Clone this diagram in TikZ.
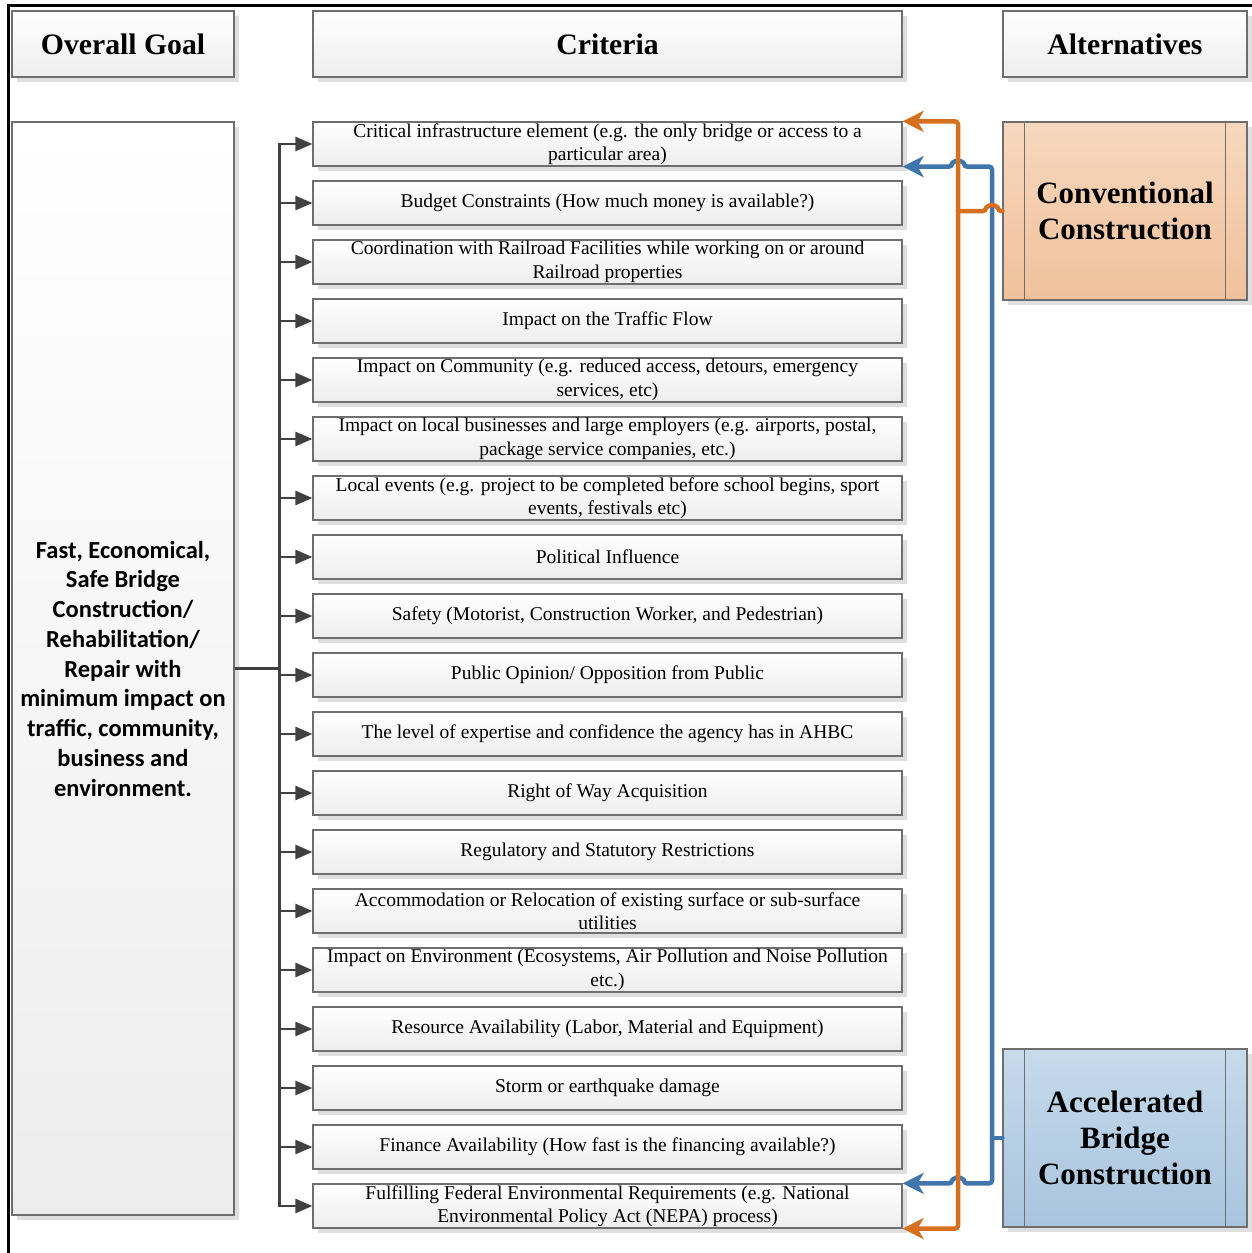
\documentclass[tikz,border=0pt]{standalone}
\usepackage{fontspec}
\setmainfont{Liberation Serif}
\newfontfamily\goalfont{Carlito}
\usepackage{xcolor}
\usepackage{tikz}
\usetikzlibrary{arrows.meta, shadows, positioning, calc}
\definecolor{boxline}{HTML}{6E6E6E}
\definecolor{arrowgray}{HTML}{404040}
\definecolor{convorange}{HTML}{D5711E}
\definecolor{abcblue}{HTML}{4176AC}
\definecolor{convtop}{HTML}{F7D8BE}
\definecolor{convbot}{HTML}{F0C19B}
\definecolor{abctop}{HTML}{C6DAEB}
\definecolor{abcbot}{HTML}{A8C4DE}
\tikzset{
    basenode/.style = {draw=boxline, line width=1.2pt, rectangle, inner sep=0pt, align=center,
      drop shadow={shadow xshift=5pt, shadow yshift=-5pt, fill=black!13, opacity=1}},
    headnode/.style = {basenode, top color=white, bottom color=black!7, minimum height=66pt,
      font=\fontsize{29.7}{34}\selectfont\bfseries},
    critnode/.style = {basenode, top color=white, bottom color=black!7, minimum width=589pt,
      minimum height=44pt, font=\fontsize{19.5}{23.5}\selectfont},
    goalnode/.style = {basenode, top color=white, bottom color=black!7, minimum width=222pt,
      minimum height=1093pt, font=\goalfont\fontsize{24.5}{29.75}\selectfont\bfseries},
    altnode/.style = {basenode, minimum width=244pt, minimum height=178pt,
      font=\fontsize{31}{36}\selectfont\bfseries},
    connect/.style = {arrowgray, line width=2.6pt, -{Triangle[length=17pt, width=14pt]}},
    orangelink/.style = {convorange, line width=4.5pt, line cap=round, rounded corners=3pt},
    bluelink/.style = {abcblue, line width=4.5pt, line cap=round, rounded corners=3pt},
    linktip/.style = {-{Stealth[length=21pt, width=21pt, inset=6pt]}}
}
\begin{document}
\begin{tikzpicture}[x=1pt, y=-1pt]
    \fill[white] (0,0) rectangle (1252,1253);
    \useasboundingbox (0,0) rectangle (1252,1253);
    \draw[line width=3pt] (8,1253) -- (8,5) -- (1252,5);

    % headers
    \node [headnode, name=hgoal, minimum width=222pt] at (123,44) {Overall Goal};
    \node [headnode, name=hcrit, minimum width=589pt] at (607.5,44) {Criteria};
    \node [headnode, name=halt, minimum width=244pt] at (1125,44) {Alternatives};

    \node [goalnode, name=goal] at (123,668.5) {Fast, Economical,\\Safe Bridge\\Construction/\\Rehabilitation/\\Repair with\\minimum impact on\\traffic, community,\\business and\\environment.};

    \foreach \crit [count=\i] in {
        {Critical infrastructure element (e.g. the only bridge or access to a\\particular area)},
        {Budget Constraints (How much money is available?)},
        {Coordination with Railroad Facilities while working on or around\\Railroad properties},
        {Impact on the Traffic Flow},
        {Impact on Community (e.g. reduced access, detours, emergency\\services, etc)},
        {Impact on local businesses and large employers (e.g. airports, postal,\\package service companies, etc.)},
        {Local events (e.g. project to be completed before school begins, sport\\events, festivals etc)},
        {Political Influence},
        {Safety (Motorist, Construction Worker, and Pedestrian)},
        {Public Opinion/ Opposition from Public},
        {The level of expertise and confidence the agency has in AHBC},
        {Right of Way Acquisition},
        {Regulatory and Statutory Restrictions},
        {Accommodation or Relocation of existing surface or sub-surface\\utilities},
        {Impact on Environment (Ecosystems, Air Pollution and Noise Pollution\\etc.)},
        {Resource Availability (Labor, Material and Equipment)},
        {Storm or earthquake damage},
        {Finance Availability (How fast is the financing available?)},
        {Fulfilling Federal Environmental Requirements (e.g. National\\Environmental Policy Act (NEPA) process)}}
    {
        \node [critnode, name=c\i] at (607.5,{144+59*(\i-1)}) {\crit};
        \draw[connect] (goal.east) -- ++(45,0) |- (c\i.west);
    }

    \node [altnode, name=conv, top color=convtop, bottom color=convbot] at (1125,211) {Conventional\\Construction};
    \node [altnode, name=abc, top color=abctop, bottom color=abcbot] at (1125,1138) {Accelerated\\Bridge\\Construction};
    \foreach \alt in {conv, abc} {
        \draw[boxline, line width=1.2pt] ([xshift=22pt]\alt.north west) -- ([xshift=22pt]\alt.south west);
        \draw[boxline, line width=1.2pt] ([xshift=-22pt]\alt.north east) -- ([xshift=-22pt]\alt.south east);
    }

    % alternatives back to criteria
    \coordinate (ojoin) at (958,211);
    \coordinate (bjoin) at (992,1138);
    \draw[bluelink] (abc.west) -- (bjoin);
    \draw[bluelink, linktip] (bjoin) -- (bjoin |- c1.south east) -- ([xshift=6pt]ojoin |- c1.south east)
        arc[start angle=0, end angle=-180, radius=6] -- (c1.south east);
    \draw[bluelink, linktip] (bjoin) -- (bjoin |- c19.north east) -- ([xshift=6pt]ojoin |- c19.north east)
        arc[start angle=0, end angle=-180, radius=6] -- (c19.north east);
    \draw[orangelink] (conv.west) -- ([xshift=6pt]bjoin |- ojoin)
        arc[start angle=0, end angle=-180, radius=6] -- (ojoin);
    \draw[orangelink, linktip] (ojoin) |- (c1.north east);
    \draw[orangelink, linktip] (ojoin) |- (c19.south east);
\end{tikzpicture}
\end{document}
